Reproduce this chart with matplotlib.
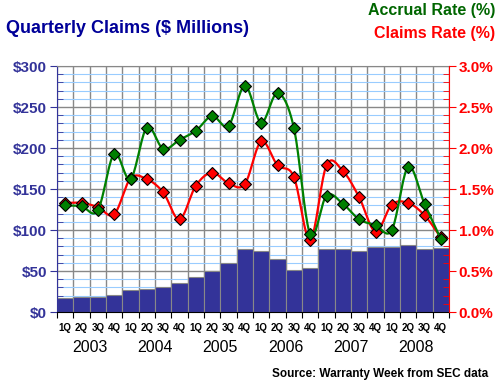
import numpy as np
import matplotlib
matplotlib.use("Agg")
import matplotlib.pyplot as plt
from matplotlib.ticker import MultipleLocator, FuncFormatter
from matplotlib.transforms import blended_transform_factory

plt.rcParams['font.family'] = ['Liberation Sans', 'DejaVu Sans']

# quarterly data 2003 Q1 .. 2008 Q4
years = ['2003', '2004', '2005', '2006', '2007', '2008']
quarters = ['1Q', '2Q', '3Q', '4Q']
claims = [17, 18, 18, 21, 27, 28, 30, 35, 43, 50, 60, 77,
          74, 65, 51, 54, 77, 77, 74, 79, 79, 82, 77, 78]
accrual_rate = [1.30, 1.29, 1.24, 1.93, 1.62, 2.25, 1.99, 2.10, 2.21, 2.39, 2.27, 2.76,
                2.31, 2.67, 2.25, 0.95, 1.42, 1.32, 1.13, 1.06, 1.00, 1.77, 1.32, 0.89]
claims_rate = [1.33, 1.33, 1.28, 1.19, 1.63, 1.62, 1.46, 1.13, 1.54, 1.70, 1.57, 1.56,
               2.08, 1.79, 1.65, 0.88, 1.79, 1.72, 1.40, 0.98, 1.31, 1.33, 1.18, 0.91]

navy = '#333399'
green = '#008000'
red = '#ff0000'


def smooth(x, y, n=20):
    # catmull-rom curve through the points, like a spreadsheet "smoothed line"
    x = np.asarray(x, float)
    y = np.asarray(y, float)
    px = np.concatenate([[2 * x[0] - x[1]], x, [2 * x[-1] - x[-2]]])
    py = np.concatenate([[2 * y[0] - y[1]], y, [2 * y[-1] - y[-2]]])
    t = np.linspace(0, 1, n)
    xs, ys = [], []
    for i in range(1, len(px) - 2):
        for p, out in ((px, xs), (py, ys)):
            p0, p1, p2, p3 = p[i - 1], p[i], p[i + 1], p[i + 2]
            out.extend(0.5 * (2 * p1 + (-p0 + p2) * t
                              + (2 * p0 - 5 * p1 + 4 * p2 - p3) * t ** 2
                              + (-p0 + 3 * p1 - 3 * p2 + p3) * t ** 3))
    return xs, ys


fig = plt.figure(figsize=(5, 3.86), dpi=100)
ax = fig.add_axes([0.114, 0.1917, 0.784, 0.6373])
x = np.arange(len(claims))

ax.bar(x, claims, width=1.0, color=navy, edgecolor='#888888', linewidth=0.8, zorder=2)
ax.set_xlim(-0.5, len(claims) - 0.5)
ax.set_ylim(0, 300)
ax.set_axisbelow(True)

ax.yaxis.set_major_locator(MultipleLocator(50))
ax.yaxis.set_minor_locator(MultipleLocator(10))
ax.yaxis.set_major_formatter(FuncFormatter(lambda v, p: '$%d' % v))
ax.grid(which='minor', axis='y', color='#99ccff', linewidth=0.8, zorder=0)
ax.grid(which='major', axis='y', color='#888888', linewidth=1.0, zorder=1)

ax.set_xticks(np.arange(-0.5, len(claims), 1.0))
ax.set_xticklabels([])
ax.grid(which='major', axis='x', color='#888888', linewidth=1.0, zorder=1)
ax.tick_params(axis='x', which='major', direction='out', length=4, color='black')
ax.set_xticks(x, minor=True)
ax.set_xticklabels(quarters * len(years), minor=True)
ax.tick_params(axis='x', which='minor', length=0, pad=8, labelsize=7)
for lab in ax.get_xticklabels(minor=True):
    lab.set_fontweight('bold')

ax.tick_params(axis='y', which='major', direction='out', length=5, color=navy,
               labelcolor=navy, labelsize=11, pad=2)
ax.tick_params(axis='y', which='minor', direction='in', length=4, color=navy)
for lab in ax.get_yticklabels():
    lab.set_fontweight('bold')

ax.spines['left'].set_color(navy)
ax.spines['right'].set_visible(False)
ax.spines['top'].set_color('#888888')
ax.spines['bottom'].set_color('black')

tr = blended_transform_factory(ax.transData, ax.transAxes)
for i, yr in enumerate(years):
    ax.text(i * 4 + 1.5, -0.115, yr, transform=tr, ha='center', va='top', fontsize=11.5)

ax2 = ax.twinx()
ax2.set_ylim(0, 3.0)
ax2.yaxis.set_major_locator(MultipleLocator(0.5))
ax2.yaxis.set_minor_locator(MultipleLocator(0.1))
ax2.yaxis.set_major_formatter(FuncFormatter(lambda v, p: '%.1f%%' % v))
ax2.tick_params(axis='y', which='major', direction='out', length=5, color=red,
                labelcolor=red, labelsize=11, pad=2)
ax2.tick_params(axis='y', which='minor', direction='in', length=4, color=red)
for lab in ax2.get_yticklabels():
    lab.set_fontweight('bold')
for side in ('left', 'top', 'bottom'):
    ax2.spines[side].set_visible(False)
ax2.spines['right'].set_color(red)

sx, sy = smooth(x, claims_rate)
ax2.plot(sx, sy, color=red, linewidth=1.6, zorder=3)
ax2.plot(x, claims_rate, linestyle='none', marker='D', markersize=6.5,
         markerfacecolor=red, markeredgecolor='black', markeredgewidth=0.8, zorder=4)
sx, sy = smooth(x, accrual_rate)
ax2.plot(sx, sy, color=green, linewidth=1.6, zorder=5)
ax2.plot(x, accrual_rate, linestyle='none', marker='D', markersize=6.5,
         markerfacecolor=green, markeredgecolor='black', markeredgewidth=0.8, zorder=6)

fig.text(0.012, 0.925, 'Quarterly Claims ($ Millions)', color='#000099',
         fontsize=13, fontweight='bold', ha='left', va='center')
fig.text(0.99, 0.972, 'Accrual Rate (%)', color='#006600',
         fontsize=11.5, fontweight='bold', ha='right', va='center')
fig.text(0.99, 0.912, 'Claims Rate (%)', color=red,
         fontsize=11.5, fontweight='bold', ha='right', va='center')
fig.text(0.976, 0.03, 'Source: Warranty Week from SEC data', color='black',
         fontsize=8.5, fontweight='bold', ha='right', va='center')

fig.savefig('out.png', dpi=100)
